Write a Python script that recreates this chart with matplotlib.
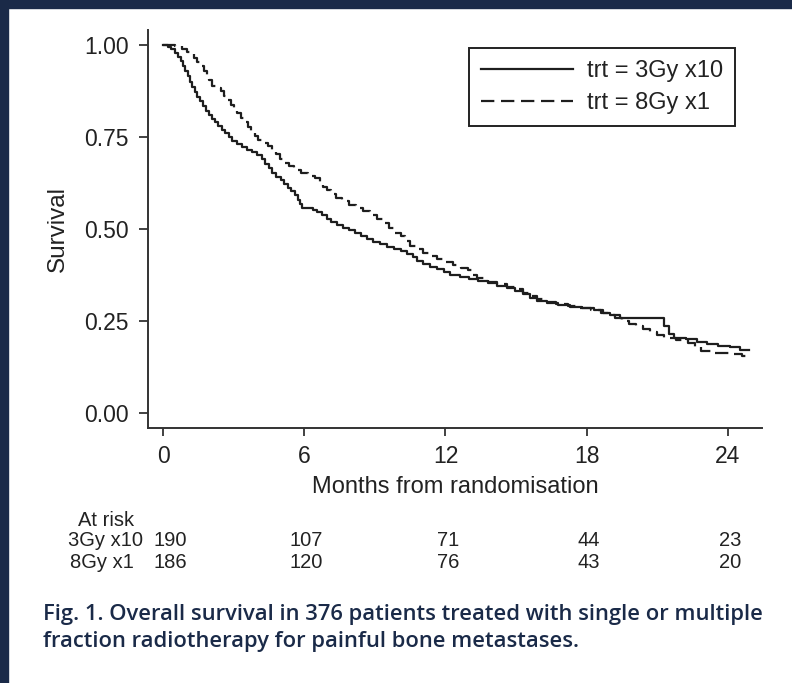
import numpy as np
import matplotlib
matplotlib.use("Agg")
import matplotlib.pyplot as plt
import matplotlib.transforms as mtransforms
from matplotlib.patches import Rectangle

plt.rcParams['font.family'] = ['Liberation Sans', 'DejaVu Sans']

# Kaplan-Meier steps (months, survival)
t_3gy = [0, 0.2, 0.35, 0.5, 0.62, 0.75, 0.85, 0.95, 1.05, 1.15, 1.25, 1.35,
         1.45, 1.58, 1.7, 1.82, 1.95, 2.08, 2.2, 2.35, 2.5, 2.65, 2.8, 2.95,
         3.15, 3.35, 3.55, 3.8, 4.0, 4.2, 4.35, 4.5, 4.65, 4.8, 5.0, 5.15, 5.3,
         5.45, 5.6, 5.72, 5.82, 5.92, 6.35, 6.55, 6.75, 6.95, 7.15, 7.4, 7.65,
         7.9, 8.15, 8.4, 8.65, 8.9, 9.2, 9.5, 9.8, 10.1, 10.35, 10.6, 10.8,
         11.05, 11.35, 11.65, 11.95, 12.2, 12.6, 13.0, 13.4, 13.8, 14.2, 14.6,
         14.95, 15.3, 15.6, 15.9, 16.3, 16.8, 17.3, 17.8, 18.3, 18.7, 19.0,
         19.4, 20.6, 21.3, 21.5, 21.7, 22.2, 22.7, 23.1, 23.6, 24.1, 24.5, 24.9]
s_3gy = [1.0, 0.995, 0.988, 0.978, 0.968, 0.957, 0.943, 0.93, 0.915, 0.9,
         0.885, 0.872, 0.86, 0.848, 0.835, 0.822, 0.81, 0.8, 0.79, 0.78, 0.77,
         0.76, 0.75, 0.74, 0.732, 0.724, 0.716, 0.708, 0.70, 0.69, 0.678,
         0.665, 0.652, 0.642, 0.632, 0.622, 0.612, 0.602, 0.592, 0.58, 0.568,
         0.558, 0.552, 0.545, 0.537, 0.527, 0.518, 0.51, 0.503, 0.496, 0.488,
         0.48, 0.472, 0.465, 0.459, 0.452, 0.446, 0.44, 0.433, 0.424, 0.413,
         0.405, 0.398, 0.39, 0.382, 0.375, 0.37, 0.365, 0.359, 0.352, 0.346,
         0.339, 0.332, 0.322, 0.313, 0.305, 0.299, 0.294, 0.289, 0.284, 0.279,
         0.272, 0.265, 0.259, 0.257, 0.235, 0.215, 0.205, 0.20, 0.194, 0.188,
         0.183, 0.178, 0.17, 0.17]

t_8gy = [0, 0.5, 0.8, 1.0, 1.15, 1.3, 1.45, 1.6, 1.72, 1.85, 1.97, 2.1, 2.25,
         2.45, 2.6, 2.75, 2.88, 3.0, 3.15, 3.3, 3.45, 3.6, 3.75, 3.9, 4.05,
         4.25, 4.45, 4.65, 4.8, 4.95, 5.15, 5.35, 5.55, 5.85, 6.15, 6.45, 6.65,
         6.8, 6.95, 7.15, 7.35, 7.6, 7.9, 8.2, 8.5, 8.8, 9.1, 9.35, 9.6, 9.85,
         10.1, 10.3, 10.5, 10.75, 11.05, 11.35, 11.65, 12.0, 12.3, 12.65, 12.95,
         13.15, 13.35, 13.8, 14.2, 14.6, 15.0, 15.3, 15.6, 15.9, 16.25, 16.7,
         17.2, 17.7, 18.2, 18.6, 18.9, 19.2, 19.5, 19.8, 20.1, 20.4, 20.7, 21.0,
         21.3, 21.8, 22.3, 22.6, 22.85, 23.3, 24.2, 24.6, 24.9]
s_8gy = [1.0, 0.997, 0.99, 0.982, 0.975, 0.965, 0.955, 0.943, 0.93, 0.917,
         0.905, 0.89, 0.882, 0.874, 0.862, 0.85, 0.838, 0.826, 0.814, 0.802,
         0.79, 0.778, 0.766, 0.754, 0.743, 0.735, 0.727, 0.716, 0.703, 0.69,
         0.68, 0.67, 0.66, 0.652, 0.645, 0.638, 0.628, 0.615, 0.605, 0.594,
         0.583, 0.575, 0.566, 0.557, 0.548, 0.538, 0.528, 0.515, 0.502, 0.49,
         0.48, 0.468, 0.455, 0.445, 0.436, 0.427, 0.418, 0.41, 0.401, 0.395,
         0.389, 0.375, 0.367, 0.357, 0.35, 0.343, 0.336, 0.326, 0.317, 0.309,
         0.302, 0.296, 0.291, 0.285, 0.279, 0.272, 0.265, 0.258, 0.25, 0.242,
         0.235, 0.228, 0.22, 0.212, 0.205, 0.198, 0.19, 0.18, 0.168, 0.163,
         0.16, 0.155, 0.155]

labels = ['trt = 3Gy x10', 'trt = 8Gy x1']
x_ticks = [0, 6, 12, 18, 24]
y_ticks = [0.0, 0.25, 0.5, 0.75, 1.0]
y_ticklabels = ['0.00', '0.25', '0.50', '0.75', '1.00']

risk_groups = ['3Gy x10', '8Gy x1']
risk_3gy = [190, 107, 71, 44, 23]
risk_8gy = [186, 120, 76, 43, 20]

caption = ['Fig. 1. Overall survival in 376 patients treated with single or multiple',
           'fraction radiotherapy for painful bone metastases.']

W, H = 792, 683
fig = plt.figure(figsize=(W / 100, H / 100), dpi=100, facecolor='white')

# navy page edge on the left and top
navy = '#1a2a48'
fig.patches.append(Rectangle((0, 0), 8 / W, 1, transform=fig.transFigure,
                             color=navy, zorder=0))
fig.patches.append(Rectangle((0, 1 - 8 / H), 1, 8 / H, transform=fig.transFigure,
                             color=navy, zorder=0))

ax = fig.add_axes([148 / W, 1 - 428 / H, (762 - 148) / W, (428 - 30) / H])
ax.set_facecolor('white')

ink = '#1e1e1e'
ax.step(t_3gy, s_3gy, where='post', color=ink, lw=1.6, label=labels[0])
ax.step(t_8gy, s_8gy, where='post', color=ink, lw=1.6, dashes=(6, 3),
        label=labels[1])

ax.set_xlim(-0.64, 25.45)
ax.set_ylim(-0.041, 1.041)
ax.set_xticks(x_ticks)
ax.set_yticks(y_ticks)
ax.set_yticklabels(y_ticklabels)

for side in ['top', 'right']:
    ax.spines[side].set_visible(False)
for side in ['left', 'bottom']:
    ax.spines[side].set_linewidth(1.4)
    ax.spines[side].set_color('#333333')
ax.tick_params(axis='y', length=6.5, width=1.3, pad=7.5, labelsize=16.5,
               colors='#333333', labelcolor='#222222')
ax.tick_params(axis='x', length=6, width=1.3, pad=6.5, labelsize=16.5,
               colors='#333333', labelcolor='#222222')

fig.text(58 / W, 1 - 229 / H, 'Survival', rotation=90, ha='center',
         va='center', fontsize=17.5, color='#222222')
fig.text(455 / W, 1 - 487 / H, 'Months from randomisation', ha='center',
         va='center', fontsize=17, color='#222222')

leg = ax.legend(loc='upper right', bbox_to_anchor=(735 / W, 1 - 48 / H),
                bbox_transform=fig.transFigure, borderaxespad=0,
                fontsize=17, handlelength=3.9, handletextpad=0.6,
                borderpad=0.5, labelspacing=0.45, fancybox=False,
                edgecolor='#222222', framealpha=1)
leg.get_frame().set_linewidth(1.4)
for txt in leg.get_texts():
    txt.set_color('#222222')

# number at risk table
fig.text(78 / W, 1 - 520 / H, 'At risk', ha='left', va='center',
         fontsize=14.5, color='#222222')
trans = mtransforms.blended_transform_factory(ax.transData, fig.transFigure)
row_y = [1 - 540 / H, 1 - 562 / H]
row_x = [68 / W, 70 / W]
for name, counts, yy, xx in zip(risk_groups, [risk_3gy, risk_8gy], row_y, row_x):
    fig.text(xx, yy, name, ha='left', va='center', fontsize=14.5,
             color='#222222')
    for xt, n in zip(x_ticks, counts):
        off = 0.3 if xt == 0 else 0.1
        ax.text(xt + off, yy, str(n), transform=trans, ha='center',
                va='center', fontsize=14.5, color='#222222')

# caption, sized to span the width of the original
cap_kw = dict(ha='left', va='baseline', color=navy, fontweight='semibold',
              family=['Open Sans', 'DejaVu Sans'])
t1 = fig.text(43 / W, 1 - 620 / H, caption[0], fontsize=14, **cap_kw)
renderer = fig.canvas.get_renderer()
w1 = t1.get_window_extent(renderer).width
size = 14 * (768 - 43) / w1
t1.set_fontsize(size)
fig.text(43 / W, 1 - 647 / H, caption[1], fontsize=size, **cap_kw)

fig.savefig('out.png', dpi=100, facecolor='white')
